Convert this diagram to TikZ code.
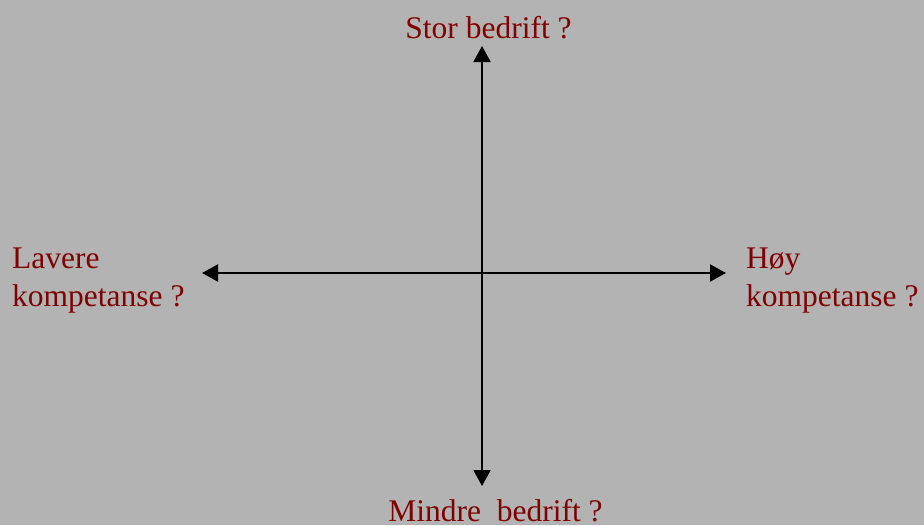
\documentclass[tikz,border=0pt]{standalone}
\usepackage{fontspec}
\setmainfont{Liberation Serif}
\usetikzlibrary{arrows.meta}
\definecolor{bgray}{RGB}{179,179,179}
\definecolor{lbl}{RGB}{128,0,0}
\tikzset{
  axis/.style={line width=2pt,-{Triangle[length=16pt,width=17pt]}},
  lbltext/.style={text=lbl,inner sep=0pt,align=left,font=\fontsize{31.5}{38}\selectfont}
}
\begin{document}
\begin{tikzpicture}[x=1pt,y=-1pt]
\fill[bgray] (0,0) rectangle (924,525);
\useasboundingbox (0,0) rectangle (924,525);
\coordinate (o) at (482,273);
\coordinate (top) at (482,46);
\coordinate (bot) at (482,486);
\coordinate (lft) at (202,273);
\coordinate (rgt) at (726,273);
\draw[axis] (o) -- (top);
\draw[axis] (o) -- (bot);
\draw[axis] (o) -- (lft);
\draw[axis] (o) -- (rgt);
\node[lbltext,anchor=base] (stor) at (488.5,38) {Stor bedrift ?};
\node[lbltext,anchor=base] (mindre) at (495.5,521.5) {Mindre\ \ bedrift ?};
\node[lbltext,anchor=base west] (lav) at (12,306) {Lavere\\kompetanse ?};
\node[lbltext,anchor=base west] (hoy) at (746,306) {Høy\\kompetanse ?};
\end{tikzpicture}
\end{document}
